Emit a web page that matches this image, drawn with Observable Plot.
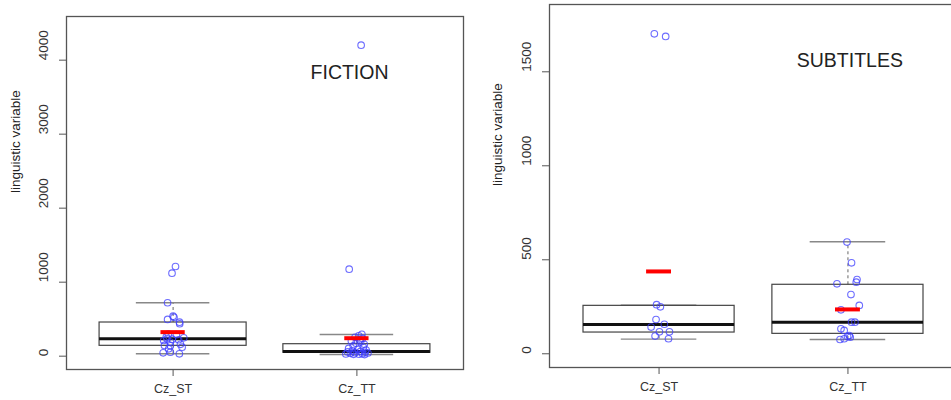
<!DOCTYPE html>
<html>
<head>
<meta charset="utf-8">
<script src="https://cdn.jsdelivr.net/npm/d3@7"></script>
<script src="https://cdn.jsdelivr.net/npm/@observablehq/plot@0.6"></script>
<style>
  html, body { margin: 0; padding: 0; background: #fff; }
  #row { display: flex; width: 951px; height: 400px; overflow: hidden; }
  #left { width: 475px; height: 400px; overflow: hidden; }
  #right { width: 476px; height: 400px; overflow: hidden; }
  svg { overflow: hidden; }
</style>
</head>
<body>
<div id="row"><div id="left"></div><div id="right"></div></div>
<script>
// ---- data ----
const categories = ["Cz_ST", "Cz_TT"];
const yLabel = "linguistic variable";
const panelTitles = ["FICTION", "SUBTITLES"];

// FICTION points (value, horizontal jitter)
const fictionSTValues = [1212, 1122, 722, 541, 525, 496, 459, 438, 300, 290, 260, 248, 235, 230, 222, 212, 190, 160, 145, 140, 122, 100, 54, 46, 32];
const fictionSTJitter = [0.013, -0.006, -0.03, 0, 0.005, -0.03, 0.035, 0.036, -0.026, 0.018, -0.037, 0.058, -0.033, -0.004, 0.03, -0.051, -0.015, 0.04, -0.047, -0.015, 0.049, -0.024, -0.015, -0.054, 0.034];
const fictionTTValues = [4203, 1176, 295, 275, 255, 240, 220, 205, 190, 175, 160, 140, 120, 105, 92, 82, 72, 64, 58, 52, 47, 43, 38, 34, 30, 27, 25, 22];
const fictionTTJitter = [0.023, -0.042, 0.027, 0.01, -0.01, 0.03, 0.015, -0.03, 0.02, -0.005, 0.04, -0.02, 0.035, -0.045, 0.005, 0.05, -0.025, 0.02, -0.05, 0.045, -0.01, 0.06, -0.035, 0.03, -0.06, 0.012, -0.018, 0.042];
// FICTION box statistics per category
const fictionLower  = [32, 23];
const fictionQ1     = [140, 46];
const fictionMedian = [235, 64];
const fictionQ3     = [455, 162];
const fictionUpper  = [722, 293];
const fictionMean   = [325, 243];
const fictionTicks  = [0, 1000, 2000, 3000, 4000];

// SUBTITLES points
const subsSTValues = [1702, 1688, 261, 250, 182, 157, 142, 117, 117, 94, 80];
const subsSTJitter = [-0.025, 0.035, -0.013, 0.007, -0.016, 0.028, -0.042, 0.002, 0.055, -0.021, 0.05];
const subsTTValues = [594, 484, 395, 381, 372, 315, 257, 234, 168, 168, 133, 124, 97, 92, 88, 80, 76];
const subsTTJitter = [-0.005, 0.019, 0.048, 0.044, -0.058, 0.016, 0.06, -0.037, 0.019, 0.037, -0.037, -0.02, 0.007, -0.002, 0.012, -0.02, -0.042];
const subsLower  = [78, 76];
const subsQ1     = [113, 106];
const subsMedian = [156, 168];
const subsQ3     = [255, 367];
const subsUpper  = [259, 596];
const subsMean   = [438, 236];
const subsTicks  = [0, 500, 1000, 1500];

// title anchor positions (data coords)
const titleX = [1.96, 2.01];
const titleY = [3830, 1560];

// ---- build ----
function makePanel(cfg) {
  const boxes = categories.map((c, i) => ({
    pos: i + 1, lo: cfg.lower[i], q1: cfg.q1[i], med: cfg.median[i], q3: cfg.q3[i], hi: cfg.upper[i], mean: cfg.mean[i]
  }));
  const pts = [];
  cfg.values.forEach((vals, i) => vals.forEach((v, j) => pts.push({x: i + 1 + cfg.jitter[i][j], y: v})));
  return Plot.plot({
    width: cfg.width, height: 400,
    marginLeft: cfg.ml, marginRight: cfg.mr, marginTop: cfg.mt, marginBottom: cfg.mb,
    style: {fontFamily: "'Liberation Sans', Arial, sans-serif", fontSize: "12.5px", color: "#333", background: "#fff"},
    x: {domain: [0.42, 2.58]},
    y: {domain: cfg.ydomain},
    marks: [
      // whiskers (dashed)
      Plot.ruleX(boxes, {x: "pos", y1: "q3", y2: "hi", stroke: "#666", strokeDasharray: "3,3", strokeWidth: 1}),
      Plot.ruleX(boxes, {x: "pos", y1: "lo", y2: "q1", stroke: "#666", strokeDasharray: "3,3", strokeWidth: 1}),
      // staples
      Plot.ruleY(boxes, {y: "hi", x1: d => d.pos - 0.2, x2: d => d.pos + 0.2, stroke: "#888", strokeWidth: 1.4}),
      Plot.ruleY(boxes, {y: "lo", x1: d => d.pos - 0.2, x2: d => d.pos + 0.2, stroke: "#888", strokeWidth: 1.4}),
      // boxes
      Plot.rect(boxes, {x1: d => d.pos - 0.4, x2: d => d.pos + 0.4, y1: "q1", y2: "q3", fill: "none", stroke: "#444", strokeWidth: 1.2}),
      Plot.ruleY(boxes, {y: "med", x1: d => d.pos - 0.4, x2: d => d.pos + 0.4, stroke: "#111", strokeWidth: 3}),
      // points
      Plot.dot(pts, {x: "x", y: "y", r: 3.3, stroke: "rgb(60,60,255)", strokeOpacity: 0.75, strokeWidth: 1.1, fill: "none"}),
      // means
      Plot.ruleY(boxes, {y: "mean", x1: d => d.pos - 0.066, x2: d => d.pos + 0.066, stroke: "#ff0000", strokeWidth: 4}),
      // frame & axes
      Plot.frame({stroke: "#555", strokeWidth: 1.3}),
      Plot.axisX({ticks: [1, 2], tickFormat: d => categories[d - 1], tickSize: 7, tickPadding: 8, label: null, stroke: "#555", fill: "#333"}),
      Plot.axisY({ticks: cfg.ticks, tickSize: 7, tickFormat: () => "", label: null, stroke: "#555"}),
      Plot.text(cfg.ticks, {y: d => d, text: d => String(d), frameAnchor: "left", dx: -22.5, rotate: -90, fill: "#333", fontSize: 13.5}),
      Plot.text([yLabel], {text: d => d, frameAnchor: "left", dx: cfg.labelDx, rotate: -90, fill: "#222", fontSize: 13.5}),
      Plot.text([cfg.title], {x: cfg.tx, y: cfg.ty, text: d => d, fontSize: 19.5, fill: "#222"})
    ]
  });
}

document.getElementById("left").appendChild(makePanel({
  width: 475, ml: 66, mr: 12, mt: 16, mb: 31, ydomain: [-180, 4590],
  values: [fictionSTValues, fictionTTValues], jitter: [fictionSTJitter, fictionTTJitter],
  lower: fictionLower, q1: fictionQ1, median: fictionMedian, q3: fictionQ3, upper: fictionUpper, mean: fictionMean,
  ticks: fictionTicks, labelDx: -51, title: panelTitles[0], tx: titleX[0], ty: titleY[0]
}));
document.getElementById("right").appendChild(makePanel({
  width: 476, ml: 74, mr: -6, mt: 4, mb: 33, ydomain: [-73, 1858],
  values: [subsSTValues, subsTTValues], jitter: [subsSTJitter, subsTTJitter],
  lower: subsLower, q1: subsQ1, median: subsMedian, q3: subsQ3, upper: subsUpper, mean: subsMean,
  ticks: subsTicks, labelDx: -52, title: panelTitles[1], tx: titleX[1], ty: titleY[1]
}));
</script>
</body>
</html>
